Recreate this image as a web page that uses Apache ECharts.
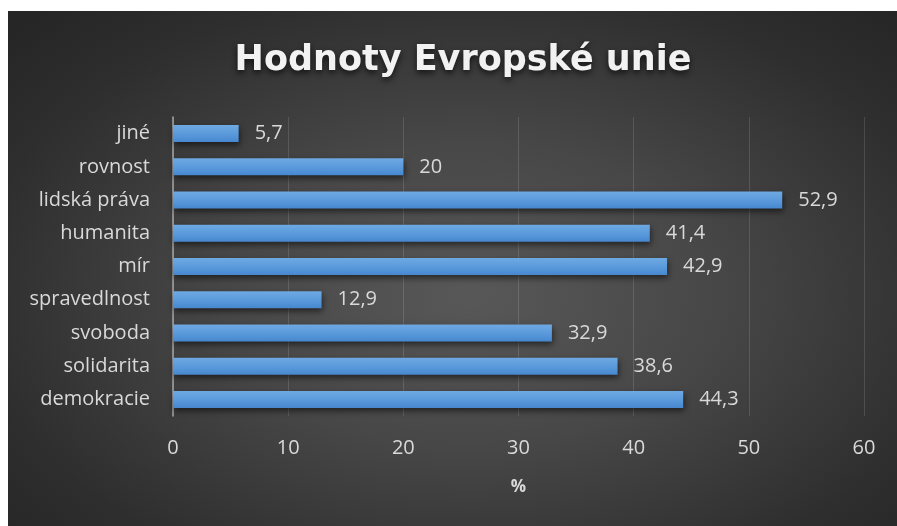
<!DOCTYPE html>
<html>
<head>
<meta charset="utf-8">
<script src="https://cdn.jsdelivr.net/npm/echarts@6/dist/echarts.min.js"></script>
<style>
  html, body { margin: 0; padding: 0; background: #fff; }
  #bg {
    position: absolute; left: 8px; top: 11px; width: 889px; height: 515px;
    background: radial-gradient(ellipse 70% 75% at 52% 55%, #585858 0%, #474747 40%, #2e2e2e 80%, #262626 100%);
  }
  #chart { position: absolute; left: 0; top: 0; width: 897px; height: 526px; }
</style>
</head>
<body>
<div id="bg"></div>
<div id="chart"></div>
<script>
// bottom to top, like the original sheet
const categories = ['demokracie', 'solidarita', 'svoboda', 'spravedlnost', 'mír', 'humanita', 'lidská práva', 'rovnost', 'jiné'];
const values = [44.3, 38.6, 32.9, 12.9, 42.9, 41.4, 52.9, 20, 5.7];
const xTicks = { min: 0, max: 60, interval: 10 };

const chart = echarts.init(document.getElementById('chart'));
const labelColor = '#d9d9d9';
const font = '"Open Sans", "Noto Sans", sans-serif';

chart.setOption({
  backgroundColor: 'transparent',
  title: {
    text: 'Hodnoty Evropské unie',
    left: 458,
    top: 38,
    textAlign: 'center',
    textStyle: {
      color: '#f2f2f2',
      fontSize: 35,
      fontWeight: 'bold',
      fontFamily: '"DejaVu Sans", sans-serif',
      textShadowColor: 'rgba(0,0,0,0.7)',
      textShadowBlur: 6,
      textShadowOffsetY: 3
    }
  },
  grid: { left: 173, right: 33, top: 117, height: 299, containLabel: false },
  xAxis: {
    type: 'value',
    min: xTicks.min,
    max: xTicks.max,
    interval: xTicks.interval,
    name: '%',
    nameLocation: 'middle',
    nameGap: 63,
    nameTextStyle: { color: labelColor, fontSize: 17, fontWeight: 'bold', fontFamily: font },
    axisLine: { show: false },
    axisTick: { show: false },
    axisLabel: { color: labelColor, fontSize: 20, margin: 22, fontFamily: font },
    splitLine: { lineStyle: { color: 'rgba(255,255,255,0.13)', width: 1 } }
  },
  yAxis: {
    type: 'category',
    data: categories,
    axisLine: { lineStyle: { color: '#a6a6a6', width: 1.5 } },
    axisTick: { show: false },
    axisLabel: { color: labelColor, fontSize: 20, margin: 23, fontFamily: font }
  },
  series: [{
    type: 'bar',
    data: values,
    barWidth: 17,
    itemStyle: {
      color: new echarts.graphic.LinearGradient(0, 0, 0, 1, [
        { offset: 0, color: '#6ea9e2' },
        { offset: 0.5, color: '#5b9bdc' },
        { offset: 1, color: '#4787cf' }
      ]),
      shadowColor: 'rgba(0,0,0,0.55)',
      shadowBlur: 6,
      shadowOffsetX: 1,
      shadowOffsetY: 3
    },
    label: {
      show: true,
      position: 'right',
      distance: 16,
      color: labelColor,
      fontSize: 20,
      fontFamily: font,
      formatter: p => String(p.value).replace('.', ',')
    }
  }]
});
</script>
</body>
</html>
